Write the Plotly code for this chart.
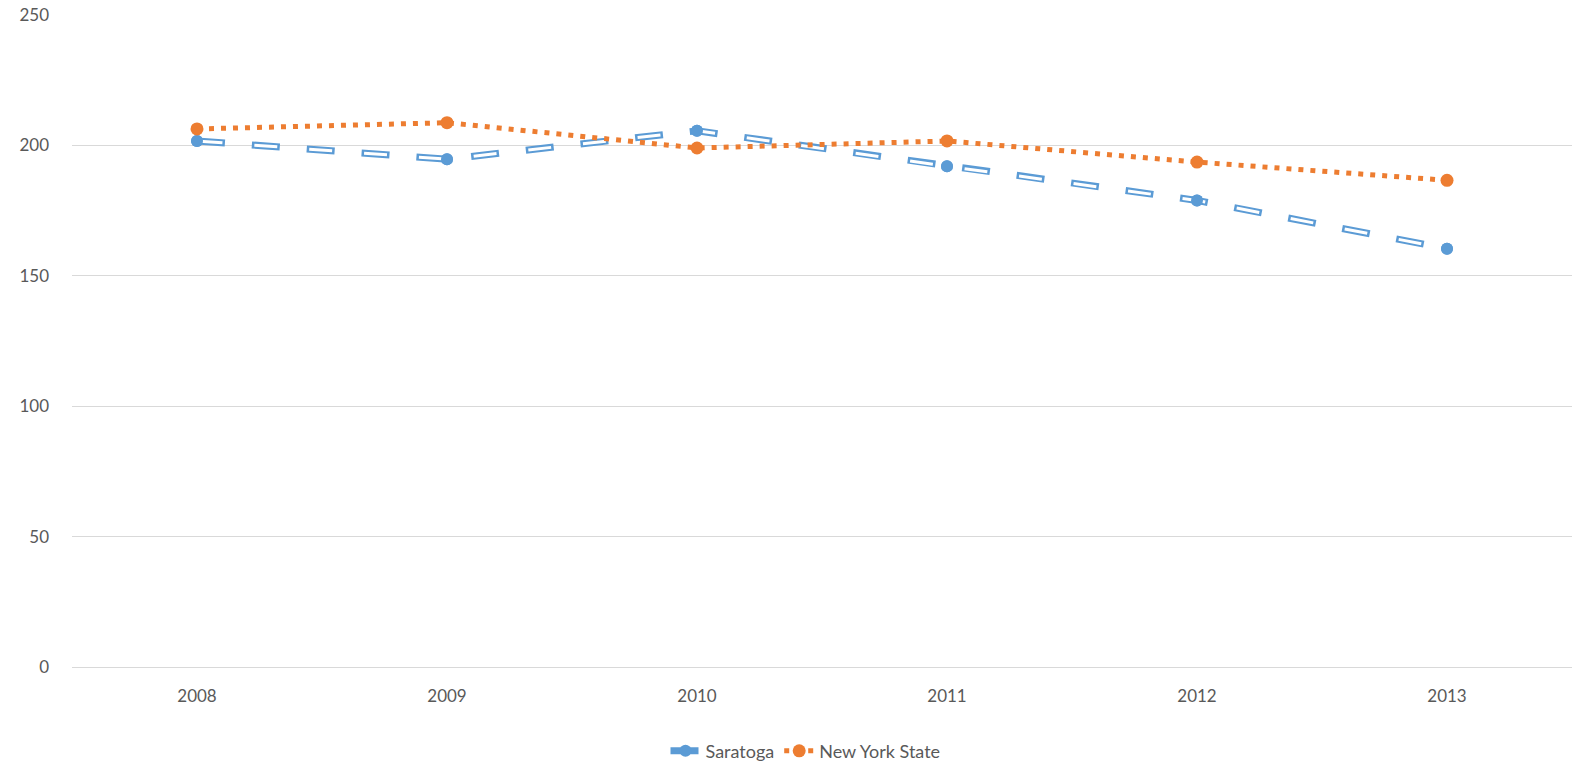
import plotly.graph_objects as go

years = ["2008", "2009", "2010", "2011", "2012", "2013"]
saratoga = [201.7, 194.7, 205.6, 192.0, 178.9, 160.4]
nys = [206.3, 208.7, 199.0, 201.7, 193.6, 186.6]

BLUE = "#5B9BD5"
ORANGE = "#ED7D31"
FONT = "Lato, 'Open Sans', sans-serif"

fig = go.Figure()
# Saratoga: outer blue dashed line
fig.add_trace(go.Scatter(x=years, y=saratoga, name="Saratoga", mode="lines+markers",
                         line=dict(color=BLUE, width=7, dash="28px,27px"),
                         marker=dict(color=BLUE, size=12)))
# inner white line to create hollow dash
fig.add_trace(go.Scatter(x=years, y=saratoga, mode="lines", showlegend=False, hoverinfo="skip",
                         line=dict(color="white", width=3, dash="0px,2.5px,23px,29.5px")))
fig.add_trace(go.Scatter(x=years, y=saratoga, mode="markers", showlegend=False, hoverinfo="skip",
                         marker=dict(color=BLUE, size=12)))
fig.add_trace(go.Scatter(x=years, y=nys, name="New York State", mode="lines+markers",
                         line=dict(color=ORANGE, width=5, dash="5px,7px"),
                         marker=dict(color=ORANGE, size=13)))

fig.update_layout(
    width=1581, height=769,
    margin=dict(l=72, r=9, t=15, b=102, autoexpand=False),
    paper_bgcolor="white", plot_bgcolor="white",
    font=dict(family=FONT, size=17, color="#595959"),
    showlegend=True,
    legend=dict(orientation="h", x=0.489, xanchor="center", y=-0.129, yanchor="middle",
                font=dict(size=18, color="#595959")),
    xaxis=dict(type="category", range=[-0.5, 5.5], showgrid=False, showline=True,
               linecolor="#D9D9D9", linewidth=1, ticks="", ticklabelstandoff=14,
               zeroline=False, automargin=False),
    yaxis=dict(range=[0, 250], dtick=50, showgrid=True, gridcolor="#D9D9D9", gridwidth=1,
               zeroline=False, showline=False, ticks="", ticklabelstandoff=22,
               automargin=False, ticklabeloverflow="allow"),
)

fig.write_html("out.html", config={"displayModeBar": False},
               post_script="document.body.style.margin='0';")
